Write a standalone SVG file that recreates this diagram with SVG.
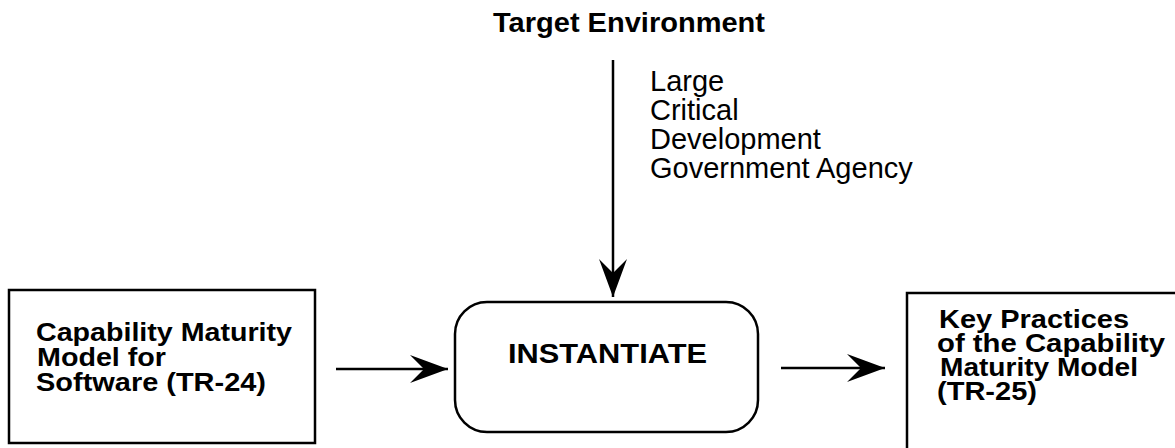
<svg xmlns="http://www.w3.org/2000/svg" width="1175" height="448" viewBox="0 0 1175 448">
<defs>
<style>
.b{font-family:"Liberation Sans",Arial,sans-serif;font-weight:bold;font-size:28px;fill:#000}
.bs{font-family:"Liberation Sans",Arial,sans-serif;font-weight:bold;font-size:26px;fill:#000}
.r{font-family:"Liberation Sans",Arial,sans-serif;font-size:29px;fill:#000}
.box{fill:#fff;stroke:#000;stroke-width:2.5}
.line{stroke:#000;stroke-width:2.5;fill:none}
</style>
<marker id="ah" viewBox="0 0 40 30" refX="38" refY="15" markerWidth="40" markerHeight="30" markerUnits="userSpaceOnUse" orient="auto">
<path d="M0,1 L38,15 L0,29 L14,15 Z" fill="#000"/>
</marker>
</defs>
<g id="title">
<text class="b" x="493" y="32" textLength="272" lengthAdjust="spacingAndGlyphs">Target Environment</text>
</g>
<g id="env-attributes">
<text class="r" x="650" y="91">Large</text>
<text class="r" x="650" y="120">Critical</text>
<text class="r" x="650" y="149">Development</text>
<text class="r" x="650" y="178">Government Agency</text>
</g>
<g id="cmm">
<rect class="box" x="9" y="290" width="306" height="153"/>
<text class="bs" x="36" y="341" textLength="256" lengthAdjust="spacingAndGlyphs">Capability Maturity</text>
<text class="bs" x="37" y="366" textLength="129" lengthAdjust="spacingAndGlyphs">Model for</text>
<text class="bs" x="36" y="391" textLength="230" lengthAdjust="spacingAndGlyphs">Software (TR-24)</text>
</g>
<g id="instantiate">
<rect class="box" x="455" y="302" width="303" height="130" rx="32" ry="32"/>
<text class="b" x="508" y="363" textLength="199" lengthAdjust="spacingAndGlyphs">INSTANTIATE</text>
</g>
<g id="key-practices">
<rect class="box" x="907" y="293" width="300" height="170"/>
<text class="bs" x="939" y="328" textLength="190" lengthAdjust="spacingAndGlyphs">Key Practices</text>
<text class="bs" x="937" y="352" textLength="228" lengthAdjust="spacingAndGlyphs">of the Capability</text>
<text class="bs" x="940" y="376" textLength="198" lengthAdjust="spacingAndGlyphs">Maturity Model</text>
<text class="bs" x="937" y="400" textLength="100" lengthAdjust="spacingAndGlyphs">(TR-25)</text>
</g>
<g id="connectors">
<line class="line" x1="613" y1="60" x2="613" y2="297" marker-end="url(#ah)"/>
<line class="line" x1="336" y1="369" x2="448" y2="369" marker-end="url(#ah)"/>
<line class="line" x1="781" y1="368" x2="885" y2="368" marker-end="url(#ah)"/>
</g>
</svg>
